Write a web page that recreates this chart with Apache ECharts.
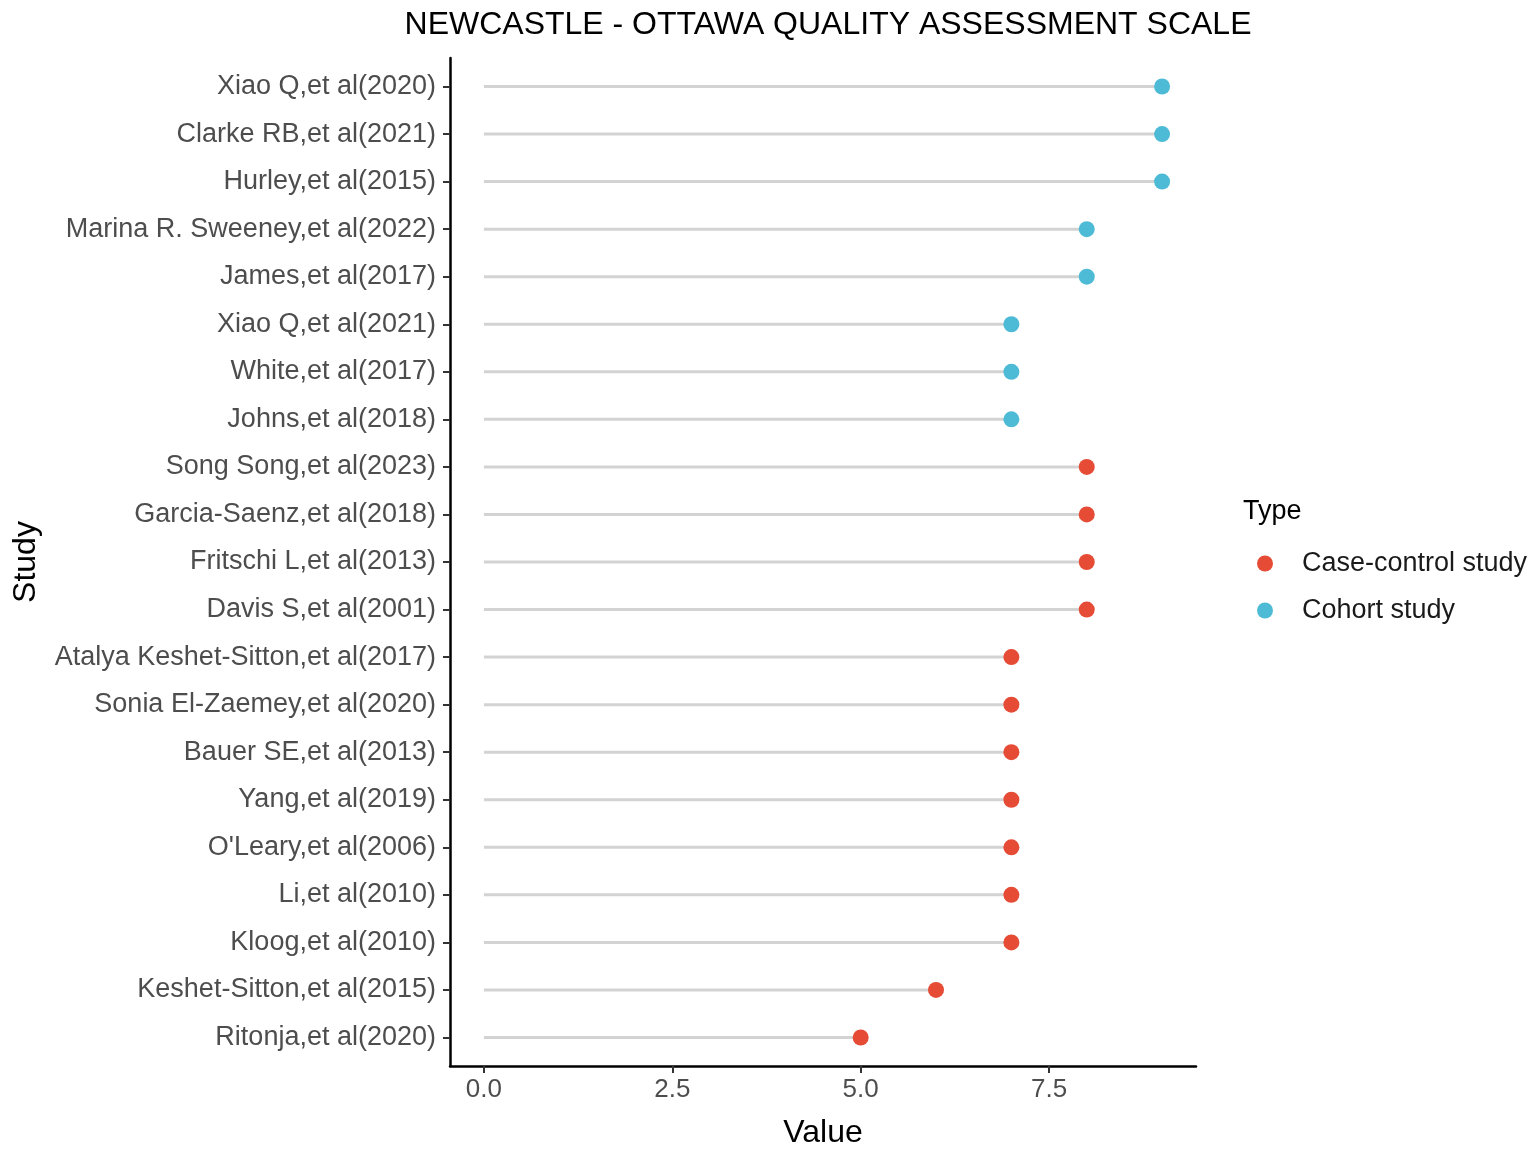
<!DOCTYPE html>
<html>
<head>
<meta charset="utf-8">
<script src="https://cdn.jsdelivr.net/npm/echarts@6/dist/echarts.min.js"></script>
<style>
  html, body { margin: 0; padding: 0; background: #fff; }
  #chart { width: 1535px; height: 1154px; }
</style>
</head>
<body>
<div id="chart"></div>
<script>
// studies from top to bottom
var studies = [
  'Xiao Q,et al(2020)', 'Clarke RB,et al(2021)', 'Hurley,et al(2015)',
  'Marina R. Sweeney,et al(2022)', 'James,et al(2017)', 'Xiao Q,et al(2021)',
  'White,et al(2017)', 'Johns,et al(2018)', 'Song Song,et al(2023)',
  'Garcia-Saenz,et al(2018)', 'Fritschi L,et al(2013)', 'Davis S,et al(2001)',
  'Atalya Keshet-Sitton,et al(2017)', 'Sonia El-Zaemey,et al(2020)', 'Bauer SE,et al(2013)',
  'Yang,et al(2019)', "O'Leary,et al(2006)", 'Li,et al(2010)',
  'Kloog,et al(2010)', 'Keshet-Sitton,et al(2015)', 'Ritonja,et al(2020)'
];
var scores = [9, 9, 9, 8, 8, 7, 7, 7, 8, 8, 8, 8, 7, 7, 7, 7, 7, 7, 7, 6, 5];
var types = [
  'Cohort study', 'Cohort study', 'Cohort study', 'Cohort study', 'Cohort study',
  'Cohort study', 'Cohort study', 'Cohort study',
  'Case-control study', 'Case-control study', 'Case-control study', 'Case-control study',
  'Case-control study', 'Case-control study', 'Case-control study', 'Case-control study',
  'Case-control study', 'Case-control study', 'Case-control study', 'Case-control study',
  'Case-control study'
];
var typeNames = ['Case-control study', 'Cohort study'];
var typeColors = ['#E64B35', '#4DBBD5'];
var xTicks = [0, 2.5, 5, 7.5];

var fontFam = '"Liberation Sans", Arial, Helvetica, sans-serif';

// row positions (0 = top row), y axis is a value axis so it can pad like ggplot
var rowIdx = studies.map(function (s, i) { return i; });

// segments from 0 to score
var segData = scores.map(function (v, i) { return [v, i]; });

// points per type
var pointSeries = typeNames.map(function (t, k) {
  var pts = [];
  for (var i = 0; i < studies.length; i++) {
    if (types[i] == t) pts.push([scores[i], i]);
  }
  return {
    name: t,
    type: 'scatter',
    data: pts,
    symbol: 'circle',
    symbolSize: 16,
    itemStyle: { color: typeColors[k], opacity: 1 },
    z: 3
  };
});

var chart = echarts.init(document.getElementById('chart'));
var option = {
  backgroundColor: '#fff',
  animation: false,
  textStyle: { fontFamily: fontFam },
  title: {
    text: 'NEWCASTLE - OTTAWA QUALITY ASSESSMENT SCALE',
    left: 823,
    textAlign: 'center',
    top: 4,
    textStyle: { fontSize: 32, fontWeight: 'normal', color: '#000', fontFamily: fontFam }
  },
  legend: {
    data: typeNames,
    orient: 'vertical',
    left: 1252,
    top: 545,
    itemWidth: 16,
    itemHeight: 16,
    itemGap: 20,
    icon: 'circle',
    textStyle: { fontSize: 27, color: '#1a1a1a', padding: [0, 0, 0, 24], fontFamily: fontFam }
  },
  graphic: [{
    type: 'text',
    left: 1243,
    top: 498,
    style: { text: 'Type', fontSize: 27, fill: '#000', fontFamily: fontFam }
  }],
  grid: { left: 450, right: 339, top: 58, height: 1012, containLabel: false },
  xAxis: {
    type: 'value',
    min: -0.45,
    max: 9.45,
    name: 'Value',
    nameLocation: 'middle',
    nameGap: 51,
    nameTextStyle: { fontSize: 32, color: '#000', fontFamily: fontFam },
    axisLine: { show: true, onZero: false, lineStyle: { color: '#000', width: 2.5 } },
    axisTick: { show: true, length: 7, customValues: xTicks, lineStyle: { color: '#333', width: 2 } },
    axisLabel: {
      customValues: xTicks,
      margin: 11,
      fontSize: 26,
      color: '#4D4D4D',
      formatter: function (v) { return v.toFixed(1); }
    },
    splitLine: { show: false }
  },
  yAxis: {
    type: 'value',
    min: -0.6,
    max: 20.6,
    inverse: true,
    name: 'Study',
    nameLocation: 'middle',
    nameGap: 408,
    nameRotate: 90,
    nameTextStyle: { fontSize: 32, color: '#000', fontFamily: fontFam },
    axisLine: { show: true, onZero: false, lineStyle: { color: '#000', width: 2.5 } },
    axisTick: { show: true, length: 7, customValues: rowIdx, lineStyle: { color: '#333', width: 2 } },
    axisLabel: {
      customValues: rowIdx,
      margin: 14,
      fontSize: 27,
      color: '#4D4D4D',
      formatter: function (v) { return studies[Math.round(v)]; }
    },
    splitLine: { show: false }
  },
  series: [{
    name: 'segment',
    type: 'custom',
    data: segData,
    silent: true,
    z: 1,
    renderItem: function (params, api) {
      var a = api.coord([0, api.value(1)]);
      var b = api.coord([api.value(0), api.value(1)]);
      return {
        type: 'line',
        shape: { x1: a[0], y1: a[1], x2: b[0], y2: b[1] },
        style: { stroke: '#D3D3D3', lineWidth: 3 }
      };
    }
  }].concat(pointSeries)
};
chart.setOption(option);
</script>
</body>
</html>
